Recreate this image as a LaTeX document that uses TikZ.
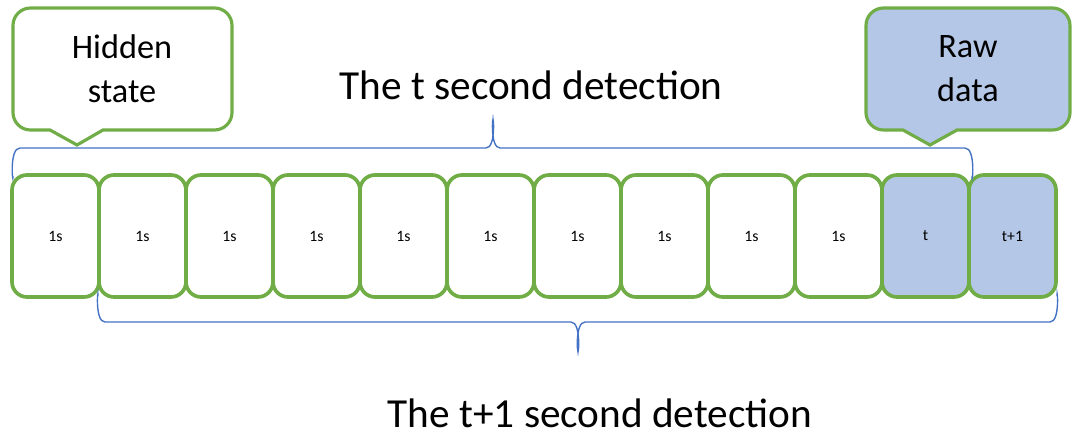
\documentclass[tikz,border=0pt]{standalone}
\usepackage{fontspec}
\setmainfont{Carlito}
\usepackage{xcolor}
\usetikzlibrary{positioning}
\definecolor{cellgreen}{HTML}{70AD47}
\definecolor{cellblue}{HTML}{B4C7E7}
\definecolor{bracecol}{HTML}{4472C4}

\tikzset{
  cell/.style = {draw=cellgreen, line width=2.1pt, rounded corners=0.3cm,
                 minimum width=1.74cm, minimum height=2.44cm, inner sep=0pt,
                 font=\fontsize{9}{11}\selectfont},
  callout/.style = {draw=cellgreen, line width=1.8pt},
  bracket/.style = {draw=bracecol, line width=0.8pt},
  title/.style = {font=\fontsize{23.5}{28}\selectfont}
}

\begin{document}
\begin{tikzpicture}[x=0.02cm, y=-0.02cm]
	\useasboundingbox (0,0) rectangle (1073,435);
	
	% callouts
	\draw [callout, fill=white] (77,145) -- (103,130) [rounded corners=0.35cm] -- (232,130)
	-- (232,8) -- (13,8) -- (13,130) [sharp corners] -- (50,130) -- cycle;
	\node [align=center, font=\fontsize{19.5}{25}\selectfont] (hidden) at (122,69) {Hidden\\state};
	
	\draw [callout, fill=cellblue] (930,145) -- (957,130) [rounded corners=0.35cm] -- (1070,130)
	-- (1070,8) -- (866,8) -- (866,130) [sharp corners] -- (903,130) -- cycle;
	\node [align=center, font=\fontsize{19.5}{25}\selectfont] (raw) at (968,69) {Raw\\data};
	
	% cells
	\foreach \i in {1,...,10}
		\node [cell] (b\i) at (12+87*\i-43.5, 236) {1s};
	\node [cell, fill=cellblue] (b11) at (12+87*11-43.5, 236) {t};
	\node [cell, fill=cellblue] (b12) at (12+87*12-43.5, 236) {t+1};
	
	% braces
	\draw [bracket] (13,176) to [out=-90, in=180] (20,148) -- (486,148)
	to [out=0, in=90] (493,122) to [out=90, in=180] (500,148) -- (965,148)
	to [out=0, in=-90] (972,176);
	\draw [bracket] (98,296) to [out=90, in=180] (105,322) -- (571,322)
	to [out=0, in=-90] (578,349) to [out=-90, in=180] (585,322) -- (1050,322)
	to [out=0, in=90] (1057,296);
	
	\node [title] (tsec) at (531,85) {The t second detection};
	\node [title] (t1sec) at (600,413) {The t+1 second detection};
\end{tikzpicture}
\end{document}
